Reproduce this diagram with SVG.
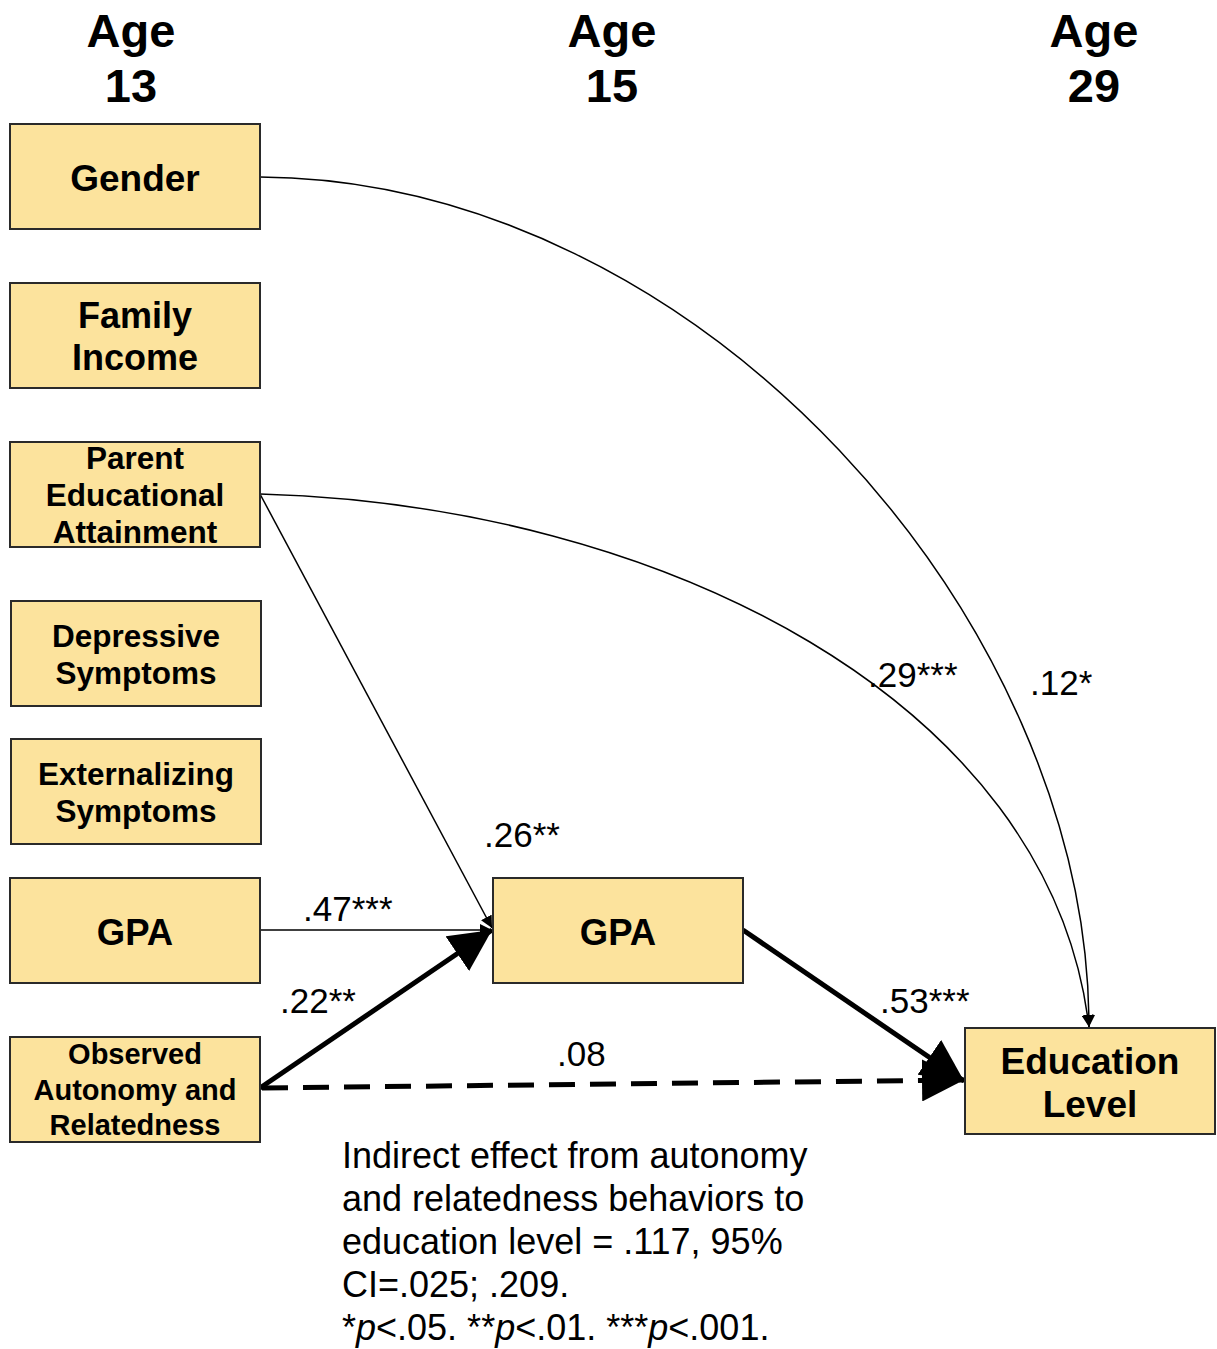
<svg xmlns="http://www.w3.org/2000/svg" width="1217" height="1349" viewBox="0 0 1217 1349">
<style>
.box{fill:#FCE39D;stroke:#2a2a2a;stroke-width:2}
.bt{font-family:"Liberation Sans",Arial,sans-serif;font-weight:bold;fill:#000;text-anchor:middle}
.hd{font-family:"Liberation Sans",Arial,sans-serif;font-weight:bold;font-size:47px;text-anchor:middle}
.lb{font-family:"Liberation Sans",Arial,sans-serif;font-size:35px;fill:#000}
.thin{fill:none;stroke:#000;stroke-width:1.5}
.thick{fill:none;stroke:#000;stroke-width:5}
</style>
<defs>
<marker id="sm" viewBox="0 0 10 10" refX="10" refY="5" markerWidth="12" markerHeight="12" markerUnits="userSpaceOnUse" orient="auto"><path d="M0,0 L10,5 L0,10 z" fill="#000"/></marker>
<marker id="bg" viewBox="0 0 10 10" refX="10" refY="5" markerWidth="42" markerHeight="42" markerUnits="userSpaceOnUse" orient="auto"><path d="M0,0 L10,5 L0,10 z" fill="#000"/></marker>
</defs>
<g id="headers">
<text class="hd" x="131" y="47">Age</text><text class="hd" x="131" y="102">13</text>
<text class="hd" x="612" y="47">Age</text><text class="hd" x="612" y="102">15</text>
<text class="hd" x="1094" y="47">Age</text><text class="hd" x="1094" y="102">29</text>
</g>
<g id="connectors">
<path class="thin" d="M260,177 C700,180 1089,620 1089,1027" marker-end="url(#sm)"/>
<path class="thin" d="M260,494 C660,505 1050,700 1089,1027" marker-end="url(#sm)"/>
<path class="thin" d="M260,494 L492,928" marker-end="url(#sm)"/>
<path class="thin" d="M260,930 L492,930" marker-end="url(#sm)"/>
<path class="thick" d="M260,1088 L492,930" marker-end="url(#bg)"/>
<path class="thick" d="M743,930 L964,1081" marker-end="url(#bg)"/>
<path class="thick" d="M262,1088 L964,1080" stroke-dasharray="26,15" marker-end="url(#bg)"/>
<text class="lb" x="1030" y="695">.12*</text>
<text class="lb" x="868" y="687">.29***</text>
<text class="lb" x="484" y="847">.26**</text>
<text class="lb" x="303" y="921">.47***</text>
<text class="lb" x="280" y="1013">.22**</text>
<text class="lb" x="880" y="1013">.53***</text>
<text class="lb" x="557" y="1066">.08</text>
</g>
<g id="gender"><rect class="box" x="10" y="124" width="250" height="105"/><text class="bt" x="135" y="191" font-size="37">Gender</text></g>
<g id="income"><rect class="box" x="10" y="283" width="250" height="105"/><text class="bt" x="135" y="328" font-size="36">Family</text><text class="bt" x="135" y="370" font-size="36">Income</text></g>
<g id="parented"><rect class="box" x="10" y="442" width="250" height="105"/><text class="bt" x="135" y="469" font-size="31.5">Parent</text><text class="bt" x="135" y="506" font-size="31.5">Educational</text><text class="bt" x="135" y="543" font-size="31.5">Attainment</text></g>
<g id="depressive"><rect class="box" x="11" y="601" width="250" height="105"/><text class="bt" x="136" y="647" font-size="31.5">Depressive</text><text class="bt" x="136" y="684" font-size="31.5">Symptoms</text></g>
<g id="externalizing"><rect class="box" x="11" y="739" width="250" height="105"/><text class="bt" x="136" y="785" font-size="31.5">Externalizing</text><text class="bt" x="136" y="822" font-size="31.5">Symptoms</text></g>
<g id="gpa13"><rect class="box" x="10" y="878" width="250" height="105"/><text class="bt" x="135" y="945" font-size="36.5">GPA</text></g>
<g id="observed"><rect class="box" x="10" y="1037" width="250" height="105"/><text class="bt" x="135" y="1064" font-size="29">Observed</text><text class="bt" x="135" y="1100" font-size="29">Autonomy and</text><text class="bt" x="135" y="1135" font-size="29">Relatedness</text></g>
<g id="gpa15"><rect class="box" x="493" y="878" width="250" height="105"/><text class="bt" x="618" y="945" font-size="36.5">GPA</text></g>
<g id="edulevel"><rect class="box" x="965" y="1028" width="250" height="106"/><text class="bt" x="1090" y="1074" font-size="37">Education</text><text class="bt" x="1090" y="1117" font-size="37">Level</text></g>
<g id="note" font-family="'Liberation Sans',Arial,sans-serif" font-size="36">
<text x="342" y="1168">Indirect effect from autonomy</text>
<text x="342" y="1211">and relatedness behaviors to</text>
<text x="342" y="1254">education level = .117, 95%</text>
<text x="342" y="1297">CI=.025; .209.</text>
<text x="342" y="1340">*<tspan font-style="italic">p</tspan>&lt;.05. **<tspan font-style="italic">p</tspan>&lt;.01. ***<tspan font-style="italic">p</tspan>&lt;.001.</text>
</g>
</svg>
